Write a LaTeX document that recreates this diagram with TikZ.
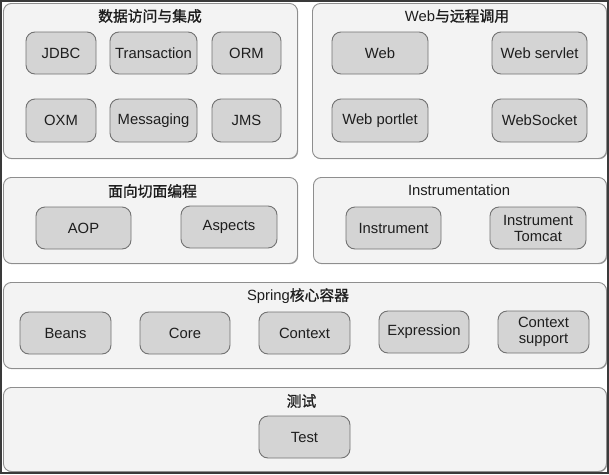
\documentclass[tikz,border=0pt]{standalone}
\usepackage{fontspec}
\setmainfont{Liberation Sans}
\newfontfamily\cjk[AutoFakeBold=1.2]{Noto Sans CJK SC}
\definecolor{panelfill}{HTML}{F3F3F3}
\definecolor{paneldraw}{HTML}{8E8E8E}
\definecolor{boxfill}{HTML}{D4D4D4}
\definecolor{boxdraw}{HTML}{727272}
\definecolor{frame}{HTML}{3A3A3A}
\definecolor{txt}{HTML}{1E1E1E}
\tikzset{
  panel/.style={draw=paneldraw, fill=panelfill, line width=0.9pt, rounded corners=8pt, inner sep=0pt},
  modbox/.style={draw=boxdraw, fill=boxfill, line width=0.9pt, rounded corners=9pt,
    minimum height=42pt, inner sep=0pt, align=center, text=txt,
    font=\fontsize{14.8}{16}\selectfont},
  ttl/.style={inner sep=0pt, text=txt, font=\fontsize{14.8}{16}\selectfont},
}
\newcommand{\panelat}[5]{%
  \fill[black!35, rounded corners=8pt] (#2+1.2,#3+1.2) rectangle (#4+1.2,#5+1.2);
  \node[panel, minimum width=#4-#2, minimum height=#5-#3, anchor=north west] (#1) at (#2,#3) {};}
\newcommand{\cjkt}[1]{{\cjk\bfseries #1}}
\begin{document}
\begin{tikzpicture}[x=1pt,y=-1pt]
\useasboundingbox (0,0) rectangle (609,474);
\fill[white] (0,0) rectangle (609,474);
% panels
\panelat{p1}{3}{3}{297}{158}
\panelat{p2}{312}{3}{606}{158}
\panelat{p3}{3}{177}{297}{263}
\panelat{p4}{313}{177}{606}{263}
\panelat{p5}{3}{282}{606}{368}
\panelat{p6}{3}{387}{606}{471}
% titles
\node[ttl] (t1) at (150,16) {\cjkt{数据访问与集成}};
\node[ttl] (t2) at (457,16) {Web\cjkt{与远程调用}};
\node[ttl] (t3) at (152.5,191) {\cjkt{面向切面编程}};
\node[ttl] (t4) at (459,190) {Instrumentation};
\node[ttl] (t5) at (298,296) {Spring\cjkt{核心容器}};
\node[ttl] (t6) at (301.5,401) {\cjkt{测试}};
% data access
\node[modbox, minimum width=70pt] (jdbc) at (61,53) {JDBC};
\node[modbox, minimum width=87pt] (tx) at (153.5,53) {Transaction};
\node[modbox, minimum width=69pt] (orm) at (246.5,53) {ORM};
\node[modbox, minimum width=70pt, minimum height=43pt] (oxm) at (61,120.5) {OXM};
\node[modbox, minimum width=87pt, minimum height=43pt] (msg) at (153.5,120.5) {Messaging};
\node[modbox, minimum width=69pt, minimum height=43pt] (jms) at (246.5,120.5) {JMS};
% web
\node[modbox, minimum width=96pt] (web) at (380,53) {Web};
\node[modbox, minimum width=95pt] (servlet) at (539.5,53) {Web servlet};
\node[modbox, minimum width=96pt, minimum height=43pt] (portlet) at (380,120.5) {Web portlet};
\node[modbox, minimum width=95pt, minimum height=43pt] (ws) at (539.5,120.5) {WebSocket};
% aop
\node[modbox, minimum width=95pt] (aop) at (83.5,228) {AOP};
\node[modbox, minimum width=96pt] (aspects) at (229,227) {Aspects};
% instrumentation
\node[modbox, minimum width=95pt] (instr) at (393.5,228) {Instrument};
\node[modbox, minimum width=96pt] (tomcat) at (538,228) {Instrument\\Tomcat};
% core
\node[modbox, minimum width=91pt] (beans) at (65.5,333) {Beans};
\node[modbox, minimum width=90pt] (core) at (185,333) {Core};
\node[modbox, minimum width=91pt] (ctx) at (304.5,333) {Context};
\node[modbox, minimum width=90pt] (expr) at (424,332) {Expression};
\node[modbox, minimum width=91pt] (ctxs) at (543.5,332) {Context\\support};
% test
\node[modbox, minimum width=91pt] (test) at (304.5,437) {Test};
% outer frame
\draw[frame, line width=1.6pt] (0.8,0.8) rectangle (608.2,473.2);
\end{tikzpicture}
\end{document}
